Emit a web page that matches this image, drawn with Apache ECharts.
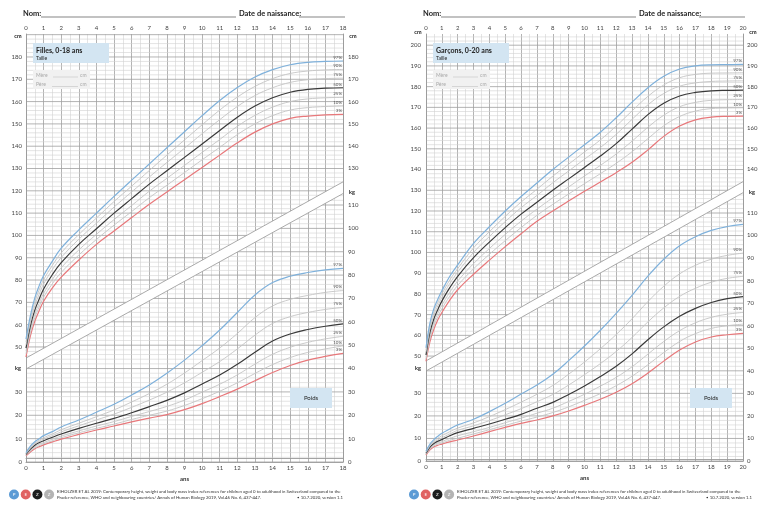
<!DOCTYPE html>
<html lang="fr">
<head>
<meta charset="UTF-8">
<title>Courbes de croissance</title>
<script src="https://cdn.jsdelivr.net/npm/echarts@6/dist/echarts.min.js"></script>
<style>html,body{margin:0;padding:0;background:#fff;}</style>
</head>
<body>
<div id="main" style="width:769px;height:506px;"></div>
<script type="text/javascript">
// ages (ans)
var agesF = [0, 0.25, 0.5, 0.75, 1, 1.5, 2, 3, 4, 5, 6, 7, 8, 9, 10, 11, 12, 13, 14, 15, 16, 17, 18];
var agesG = [0, 0.25, 0.5, 0.75, 1, 1.5, 2, 3, 4, 5, 6, 7, 8, 9, 10, 11, 12, 13, 14, 15, 16, 17, 18, 19, 20];
var centiles = ['3%', '10%', '25%', '50%', '75%', '90%', '97%'];
var couleurs = ['#e8787b', '#c4c4c4', '#c4c4c4', '#3a3a3a', '#c4c4c4', '#c4c4c4', '#7fb1db'];

// Filles - taille (cm)
var tailleF3  = [45.5, 55, 61.5, 66.3, 70.5, 76.5, 81.3, 89, 96, 102, 108, 114, 119.5, 125, 130.5, 136, 141.5, 146.3, 150, 152.5, 153.5, 154, 154.3];
var tailleF10 = [46.8, 56.4, 63.1, 68.0, 72.3, 78.4, 83.4, 91.2, 98.2, 104.6, 110.7, 116.9, 122.5, 128.2, 133.9, 139.5, 145.2, 150.0, 153.7, 156.2, 157.3, 157.8, 158.1];
var tailleF25 = [48.1, 57.9, 64.7, 69.6, 74.0, 80.3, 85.5, 93.5, 100.5, 107.1, 113.4, 119.8, 125.6, 131.4, 137.2, 143.0, 148.9, 153.8, 157.5, 160.0, 161.2, 161.7, 161.9];
var tailleF50 = [49.5, 59.5, 66.5, 71.5, 76, 82.5, 87.8, 96, 103, 110, 116.5, 123, 129, 135, 141, 147, 153, 158, 161.7, 164.2, 165.5, 166, 166.2];
var tailleF75 = [50.9, 61.1, 68.5, 73.7, 78.2, 84.7, 90.1, 98.3, 105.5, 112.7, 119.5, 126.2, 132.7, 139.1, 145.6, 151.9, 157.8, 162.7, 166.2, 168.6, 169.8, 170.3, 170.5];
var tailleF90 = [52.2, 62.6, 70.2, 75.6, 80.1, 86.6, 92.2, 100.4, 107.8, 115.2, 122.1, 129.1, 136.0, 142.8, 149.6, 156.2, 162.0, 166.8, 170.3, 172.6, 173.7, 174.2, 174.4];
var tailleF97 = [53.5, 64, 72, 77.5, 82, 88.5, 94.3, 102.5, 110, 117.5, 124.8, 132, 139.3, 146.5, 153.7, 160.5, 166.3, 171, 174.3, 176.5, 177.6, 178, 178.2];

// Filles - poids (kg)
var poidsF3  = [2.6, 4.3, 5.7, 6.6, 7.3, 8.6, 9.8, 11.8, 13.7, 15.4, 17.2, 18.8, 20.3, 22.4, 25.0, 28.0, 31.2, 34.8, 38.3, 41.3, 43.6, 45.2, 46.5];
var poidsF10 = [2.8, 4.6, 6.1, 7.0, 7.8, 9.1, 10.4, 12.5, 14.4, 16.2, 18.2, 20.0, 21.8, 24.2, 27.1, 30.3, 33.9, 37.9, 41.7, 44.7, 46.9, 48.4, 49.7];
var poidsF25 = [3.0, 5.0, 6.6, 7.6, 8.3, 9.8, 11.1, 13.3, 15.4, 17.3, 19.5, 21.6, 23.8, 26.5, 29.9, 33.3, 37.3, 41.9, 46.1, 49.1, 51.2, 52.7, 53.8];
var poidsF50 = [3.3, 5.5, 7.2, 8.3, 9.1, 10.6, 12.0, 14.4, 16.6, 18.7, 21.1, 23.7, 26.4, 29.6, 33.4, 37.2, 41.8, 47.0, 51.8, 54.8, 56.7, 58.1, 59.1];
var poidsF75 = [3.5, 5.9, 7.7, 8.8, 9.8, 11.3, 12.9, 15.5, 18.0, 20.5, 23.4, 26.5, 29.9, 33.9, 38.4, 43.0, 48.4, 54.3, 59.3, 62.2, 64.0, 65.3, 66.2];
var poidsF90 = [3.7, 6.3, 8.1, 9.3, 10.4, 12.0, 13.8, 16.6, 19.4, 22.3, 25.7, 29.3, 33.3, 38.1, 43.4, 48.8, 55.0, 61.8, 66.8, 69.6, 71.3, 72.6, 73.4];
var poidsF97 = [4.0, 6.8, 8.7, 10.0, 11.3, 13.0, 15.0, 18.0, 21.3, 24.7, 28.7, 33.0, 38.0, 43.6, 49.8, 56.5, 64.0, 71.5, 76.8, 79.5, 81.1, 82.2, 82.9];

// Garçons - taille (cm)
var tailleG3  = [47.5, 57, 63, 67.5, 71, 77, 82, 89.5, 96.3, 102.8, 109, 115, 120, 124.8, 129.5, 134, 138.5, 143.5, 149.5, 156, 161, 164, 165.3, 165.7, 165.8];
var tailleG10 = [48.5, 58.4, 64.6, 69.1, 72.8, 78.9, 84.1, 92.1, 99.1, 105.7, 112.0, 117.9, 123.2, 128.2, 133.2, 138.0, 143.0, 148.6, 154.9, 161.1, 165.6, 168.2, 169.4, 169.7, 169.8];
var tailleG25 = [49.4, 59.9, 66.2, 70.7, 74.5, 80.8, 86.2, 94.6, 101.9, 108.7, 115.1, 120.9, 126.4, 131.6, 136.9, 142.0, 147.5, 153.7, 160.4, 166.2, 170.3, 172.4, 173.4, 173.7, 173.8];
var tailleG50 = [50.5, 61.5, 68, 72.5, 76.5, 83, 88.5, 97.5, 105, 112, 118.5, 124.2, 130, 135.5, 141, 146.5, 152.5, 159.5, 166.5, 172, 175.5, 177.2, 178, 178.2, 178.3];
var tailleG75 = [51.8, 63.1, 69.8, 74.3, 78.3, 85.0, 90.5, 100.0, 107.7, 114.9, 121.6, 127.5, 133.6, 139.3, 145.0, 150.6, 157.0, 164.2, 171.2, 176.7, 180.2, 181.8, 182.5, 182.7, 182.8];
var tailleG90 = [52.9, 64.6, 71.4, 75.9, 79.9, 86.7, 92.2, 102.2, 110.0, 117.4, 124.3, 130.5, 136.8, 142.6, 148.5, 154.3, 161.0, 168.3, 175.3, 180.8, 184.3, 185.9, 186.5, 186.6, 186.7];
var tailleG97 = [54, 66, 73, 77.5, 81.5, 88.5, 94, 104.4, 112.4, 120, 127, 133.5, 140, 146, 152, 158, 165, 172.5, 179.5, 185, 188.5, 190, 190.5, 190.6, 190.7];

// Garçons - poids (kg)
var poidsG3  = [2.6, 4.9, 6.3, 7.0, 7.5, 8.5, 9.3, 11.1, 13.0, 14.9, 16.7, 18.2, 20.0, 22.2, 24.7, 27.4, 30.5, 34.3, 39.0, 44.3, 49.2, 52.8, 55.0, 56.0, 56.6];
var poidsG10 = [2.8, 5.2, 6.7, 7.5, 8.0, 9.2, 10.1, 12.0, 13.9, 15.8, 17.7, 19.5, 21.5, 24.0, 26.9, 29.9, 33.4, 37.6, 42.7, 48.1, 53.0, 56.5, 58.8, 60.0, 60.7];
var poidsG25 = [3.1, 5.6, 7.2, 8.0, 8.6, 10.0, 11.2, 13.0, 14.9, 17.0, 19.0, 21.2, 23.4, 26.4, 29.6, 33.2, 37.1, 41.8, 47.4, 53.0, 57.8, 61.3, 63.7, 65.1, 65.9];
var poidsG50 = [3.4, 6.2, 7.8, 8.8, 9.5, 11.2, 12.6, 14.5, 16.4, 18.5, 20.7, 23.4, 26.0, 29.5, 33.3, 37.5, 42.0, 47.5, 53.8, 59.5, 64.2, 67.7, 70.3, 72.0, 72.9];
var poidsG75 = [3.7, 6.6, 8.3, 9.4, 10.3, 12.0, 13.6, 15.6, 17.9, 20.5, 23.2, 26.3, 29.5, 33.7, 38.3, 43.2, 48.6, 54.8, 61.7, 67.9, 73.0, 76.6, 79.3, 81.0, 81.9];
var poidsG90 = [3.9, 7.0, 8.8, 10.1, 11.2, 13.0, 14.6, 16.9, 19.7, 22.8, 26.1, 29.6, 33.5, 38.5, 43.9, 49.8, 56.1, 63.1, 70.7, 77.5, 83.0, 86.8, 89.5, 91.2, 92.2];
var poidsG97 = [4.3, 7.5, 9.5, 11.0, 12.3, 14.2, 16.0, 18.5, 21.9, 25.6, 29.7, 33.7, 38.5, 44.5, 51.0, 58.0, 65.5, 73.5, 82.0, 89.5, 95.5, 99.5, 102.3, 104.0, 105.0];

// bande blanche entre taille et poids: [valeur a 0 an, valeur a la fin]
var bandeF_hautKg = [44.5, 119.9], bandeF_basKg = [39.8, 114.9], bandeF_hautCm = [45.0, 124.0];
var bandeG_hautKg = [44.4, 123.9], bandeG_basKg = [39.9, 119.0], bandeG_hautCm = [47.7, 134.1];

var FONT = 'Lato, "Open Sans", sans-serif';
var GRIS_FORT = '#a0a0a0', GRIS_CLAIR = '#d2d2d2';

var myChart = echarts.init(document.getElementById('main'));

// lignes horizontales, coupées à la bande
function lignesH(xi, yi, maxVal, xMax, bande, dessus) {
    var vals = [];
    for (var v = 0; v <= maxVal; v += 2) vals.push([0, v]);
    return {
        type: 'custom', xAxisIndex: xi, yAxisIndex: yi, silent: true, z: 1,
        data: vals,
        renderItem: function (params, api) {
            var v = api.value(1);
            var a = api.coord([0, bande[0]]), b = api.coord([xMax, bande[1]]);
            var g = api.coord([0, v]), d = api.coord([xMax, v]);
            var y = g[1];
            var xi2 = a[0] + (y - a[1]) * (b[0] - a[0]) / (b[1] - a[1]);
            var x0 = g[0], x1 = d[0];
            if (dessus) x1 = Math.min(x1, xi2); else x0 = Math.max(x0, xi2);
            if (x1 <= x0) return null;
            var major = Math.round(v) % 10 === 0;
            return {
                type: 'line',
                shape: {x1: x0, y1: y, x2: x1, y2: y},
                style: {stroke: major ? GRIS_FORT : GRIS_CLAIR, lineWidth: major ? 0.8 : 0.6}
            };
        }
    };
}

function bande(xi, yi, xMax, haut, bas) {
    return {
        type: 'custom', xAxisIndex: xi, yAxisIndex: yi, silent: true, z: 3,
        data: [[0, 0]],
        renderItem: function (params, api) {
            var hg = api.coord([0, haut[0]]), hd = api.coord([xMax, haut[1]]);
            var bg = api.coord([0, bas[0]]), bd = api.coord([xMax, bas[1]]);
            return {
                type: 'group', children: [
                    {type: 'polygon', shape: {points: [hg, hd, bd, bg]}, style: {fill: '#fff'}},
                    {type: 'line', shape: {x1: hg[0], y1: hg[1], x2: hd[0], y2: hd[1]}, style: {stroke: '#a0a0a0', lineWidth: 0.9}},
                    {type: 'line', shape: {x1: bg[0], y1: bg[1], x2: bd[0], y2: bd[1]}, style: {stroke: '#a0a0a0', lineWidth: 0.9}}
                ]
            };
        }
    };
}

function courbes(ages, listes, xi, yi) {
    return listes.map(function (vals, i) {
        var fort = (i === 0 || i === 3 || i === 6);
        return {
            type: 'line', xAxisIndex: xi, yAxisIndex: yi, silent: true, z: 5,
            data: ages.map(function (a, k) { return [a, vals[k]]; }),
            smooth: 0.4, symbol: 'none', showSymbol: false,
            lineStyle: {color: couleurs[i], width: fort ? 1.2 : 0.9},
            endLabel: {
                show: true, formatter: centiles[i], fontSize: 4.5, color: '#555', fontFamily: FONT,
                distance: 0, align: 'right', verticalAlign: 'bottom', offset: [-1, -1]
            }
        };
    });
}

function axeY(grid, pos, max, lo, hi, ligne, marge) {
    return {
        type: 'value', gridIndex: grid, position: pos, min: 0, max: max, interval: 10, z: 4,
        axisLine: {show: ligne, lineStyle: {color: '#9a9a9a', width: 0.9}},
        axisTick: {show: false}, splitLine: {show: false},
        axisLabel: {
            fontSize: 6, color: '#444', fontFamily: FONT, margin: marge,
            formatter: function (v) { return (v >= lo && v <= hi) ? String(v) : ''; }
        }
    };
}

function axeX(grid, pos, max, quadrillage) {
    var ax = {
        type: 'value', gridIndex: grid, position: pos, min: 0, max: max, interval: 1,
        axisLine: {show: true, lineStyle: {color: '#9a9a9a', width: 0.9}},
        axisTick: {show: false},
        axisLabel: {fontSize: 6, color: '#444', fontFamily: FONT, margin: 3},
        splitLine: {show: quadrillage, lineStyle: {color: GRIS_FORT, width: 0.8}},
        minorTick: {show: false, splitNumber: 2},
        minorSplitLine: {show: quadrillage, lineStyle: {color: GRIS_CLAIR, width: 0.6}}
    };
    if (quadrillage) {
        ax.name = 'ans';
        ax.nameLocation = 'middle';
        ax.nameGap = 13;
        ax.nameTextStyle = {fontSize: 6, fontWeight: 'bold', color: '#333', fontFamily: FONT};
    }
    return ax;
}

function texte(x, y, s, size, opt) {
    opt = opt || {};
    return {
        type: 'text', x: x, y: y, z: 100, silent: true,
        style: {
            text: s, fontSize: size, fontFamily: FONT, fontWeight: opt.bold ? 'bold' : 'normal',
            fill: opt.color || '#222', align: opt.align || 'left', verticalAlign: 'middle'
        }
    };
}
function trait(x1, y1, x2, y2, color, w) {
    return {type: 'line', z: 100, silent: true, shape: {x1: x1, y1: y1, x2: x2, y2: y2}, style: {stroke: color, lineWidth: w}};
}
function boite(x, y, w, h, fill) {
    return {type: 'rect', z: 99, silent: true, shape: {x: x, y: y, width: w, height: h}, style: {fill: fill}};
}

function decor(dx, titre, uniteCmY) {
    var g = [];
    g.push(texte(23 + dx, 14, 'Nom:', 7.5, {bold: true}));
    g.push(trait(41 + dx, 17, 236 + dx, 17, '#333', 0.6));
    g.push(texte(239 + dx, 14, 'Date de naissance:', 7.5, {bold: true}));
    g.push(trait(299 + dx, 17, 345 + dx, 17, '#333', 0.6));
    g.push(boite(33 + dx, 43, 76, 20, '#d3e5f2'));
    g.push(texte(36 + dx, 50.5, titre, 7, {bold: true}));
    g.push(texte(36 + dx, 58.5, 'Taille', 5));
    g.push(boite(33 + dx, 70, 57, 19, '#f1f1f1'));
    g.push(texte(36 + dx, 75.3, 'Mère', 5, {color: '#a8a8a8'}));
    g.push(trait(53 + dx, 77, 78 + dx, 77, '#b8b8b8', 0.5));
    g.push(texte(80 + dx, 75.3, 'cm', 5, {color: '#a8a8a8'}));
    g.push(texte(36 + dx, 84.7, 'Père', 5, {color: '#a8a8a8'}));
    g.push(trait(52 + dx, 86.5, 78 + dx, 86.5, '#b8b8b8', 0.5));
    g.push(texte(80 + dx, 84.7, 'cm', 5, {color: '#a8a8a8'}));
    g.push(boite(290 + dx, 388, 42, 20, '#d3e5f2'));
    g.push(texte(311 + dx, 398, 'Poids', 6, {align: 'center'}));
    g.push(texte(18 + dx, uniteCmY, 'cm', 5.5, {bold: true, align: 'center'}));
    g.push(texte(353 + dx, uniteCmY, 'cm', 5.5, {bold: true, align: 'center'}));
    g.push(texte(18 + dx, 368.5, 'kg', 5.5, {bold: true, align: 'center'}));
    g.push(texte(352 + dx, 192, 'kg', 5.5, {bold: true, align: 'center'}));
    // logos et référence
    var logos = [['P', '#5b9bd5'], ['E', '#e06262'], ['Z', '#1e1e1e'], ['Z', '#b3b3b3']];
    var x0 = dx === 0 ? 14 : 414;
    logos.forEach(function (l, i) {
        g.push({type: 'circle', z: 100, silent: true, shape: {cx: x0 + i * 11.7, cy: 494.5, r: 5}, style: {fill: l[1]}});
        g.push(texte(x0 + i * 11.7, 494.7, l[0], 4.5, {color: '#fff', align: 'center'}));
    });
    var tx = dx === 0 ? 57 : 457;
    g.push(texte(tx, 491.5, 'EIHOLZER ET AL 2019: Contemporary height, weight and body mass index references for children aged 0 to adulthood in Switzerland compared to the', 4.3, {color: '#333'}));
    g.push(texte(tx, 497.5, 'Prader reference, WHO and neighbouring countries/ Annals of Human Biology 2019, Vol.46 No. 6, 437-447.', 4.3, {color: '#333'}));
    g.push(texte(dx === 0 ? 343 : 752, 497.5, '\u2022 10.7.2020, version 1.1', 4.3, {color: '#333', align: 'right'}));
    return g;
}

var option = {
    animation: false,
    textStyle: {fontFamily: FONT},
    grid: [
        {left: 26, right: 426, top: 34, bottom: 47.5, outerBoundsMode: 'none'},   // filles cm
        {left: 26, right: 426, top: 34, bottom: 44, outerBoundsMode: 'none'},     // filles kg
        {left: 426, right: 26, top: 34, bottom: 46.3, outerBoundsMode: 'none'},   // garçons cm
        {left: 426, right: 26, top: 34, bottom: 45, outerBoundsMode: 'none'}      // garçons kg
    ],
    xAxis: [
        axeX(0, 'top', 18, false),
        axeX(1, 'bottom', 18, true),
        axeX(2, 'top', 20, false),
        axeX(3, 'bottom', 20, true)
    ],
    yAxis: [
        axeY(0, 'left', 190.3, 50, 180, false, 4),
        axeY(0, 'right', 190.3, 130, 180, false, 5),
        axeY(1, 'left', 183.2, 0, 30, true, 4),
        axeY(1, 'right', 183.2, 0, 110, true, 5),
        axeY(2, 'left', 205.4, 50, 200, false, 5),
        axeY(2, 'right', 205.4, 140, 200, false, 4),
        axeY(3, 'left', 189.4, 0, 30, true, 5),
        axeY(3, 'right', 189.4, 0, 110, true, 4)
    ],
    graphic: decor(0, 'Filles, 0-18 ans', 36).concat(decor(400, 'Garçons, 0-20 ans', 32)),
    series: [].concat(
        lignesH(0, 0, 190, 18, bandeF_hautCm, true),
        lignesH(1, 2, 182, 18, bandeF_basKg, false),
        lignesH(2, 4, 204, 20, bandeG_hautCm, true),
        lignesH(3, 6, 188, 20, bandeG_basKg, false),
        bande(1, 2, 18, bandeF_hautKg, bandeF_basKg),
        bande(3, 6, 20, bandeG_hautKg, bandeG_basKg),
        courbes(agesF, [tailleF3, tailleF10, tailleF25, tailleF50, tailleF75, tailleF90, tailleF97], 0, 0),
        courbes(agesF, [poidsF3, poidsF10, poidsF25, poidsF50, poidsF75, poidsF90, poidsF97], 1, 2),
        courbes(agesG, [tailleG3, tailleG10, tailleG25, tailleG50, tailleG75, tailleG90, tailleG97], 2, 4),
        courbes(agesG, [poidsG3, poidsG10, poidsG25, poidsG50, poidsG75, poidsG90, poidsG97], 3, 6)
    )
};
myChart.setOption(option);
</script>
</body>
</html>
